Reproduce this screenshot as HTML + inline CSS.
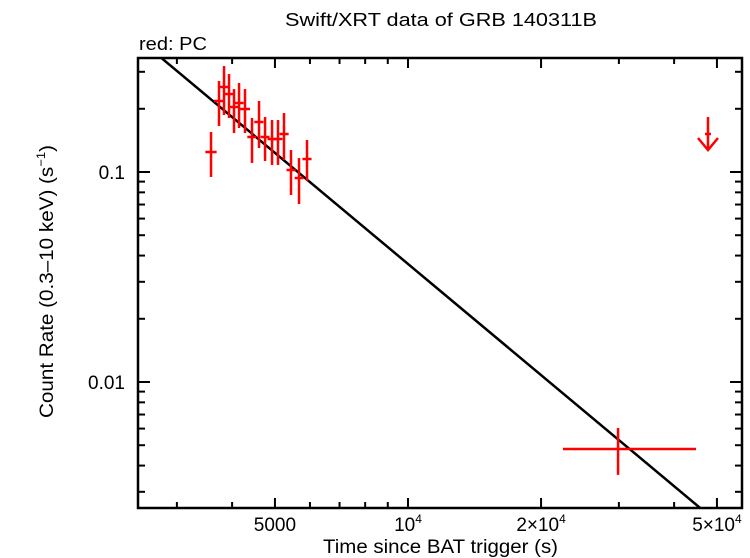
<!DOCTYPE html>
<html><head><meta charset="utf-8"><style>
body{margin:0;background:#fff;}
svg{display:block;font-family:"Liberation Sans",sans-serif;}
</style></head><body>
<svg id="chart" width="750" height="558" viewBox="0 0 750 558" xmlns="http://www.w3.org/2000/svg">
<text x="285" y="26" font-size="18" textLength="312" lengthAdjust="spacingAndGlyphs">Swift/XRT data of GRB 140311B</text>
<text x="139" y="50" font-size="18" textLength="68" lengthAdjust="spacingAndGlyphs">red: PC</text>
<text x="323" y="553" font-size="19" textLength="235" lengthAdjust="spacingAndGlyphs">Time since BAT trigger (s)</text>
<text transform="translate(53,418) rotate(-90)" font-size="19" textLength="273" lengthAdjust="spacingAndGlyphs">Count Rate (0.3–10 keV) (s<tspan font-size="12" dy="-8">−1</tspan><tspan dy="8">)</tspan></text>
<g id="ticks"></g><g id="marks"></g>
<rect x="138" y="58" width="604" height="450" fill="none" stroke="#000" stroke-width="2.5"/>
</svg>
<script>
const times=[3584,3736,3835,3936,4040,4147,4278,4437,4602,4749,4925,5080,5241,5436,5668,5909,29870];
const timeLo=[3480,3640,3740,3840,3940,4050,4170,4330,4490,4640,4810,4960,5120,5310,5540,5770,22420];
const timeHi=[3690,3840,3930,4040,4140,4250,4390,4540,4710,4860,5040,5200,5370,5570,5800,6050,44830];
const rates=[0.1245,0.2178,0.2540,0.2351,0.2039,0.2131,0.1995,0.1468,0.1730,0.1468,0.1436,0.1436,0.1517,0.1022,0.0936,0.1153,0.00480];
const rateLo=[0.0947,0.1656,0.1868,0.1808,0.1533,0.1620,0.1533,0.1104,0.1301,0.1128,0.1080,0.1080,0.1141,0.0777,0.0704,0.0906,0.00361];
const rateHi=[0.1550,0.2713,0.3198,0.2928,0.2484,0.2653,0.2484,0.1808,0.2178,0.1828,0.1769,0.1769,0.1910,0.1273,0.1166,0.1420,0.00604];
const ulTime=[47720];
const ulRate=[0.1517];
const modelNorm=[0.353];const modelT0=[2750];const modelIndex=[1.758];
const xTickValues=[5000,10000,20000,50000];
const xTickBase=["5000","10","2×10","5×10"];
const xTickSup=["","4","4","4"];
const yTickValues=[0.01,0.1];
const yTickLabels=["0.01","0.1"];
const X=t=>408+442*(Math.log10(t)-4);
const Y=r=>172-210*(Math.log10(r)+1);
const NS="http://www.w3.org/2000/svg";
function mk(tag,attrs,parent){const e=document.createElementNS(NS,tag);for(const k in attrs)e.setAttribute(k,attrs[k]);parent.appendChild(e);return e;}
const tg=document.getElementById('ticks'),mg=document.getElementById('marks');
for(let d=1000;d<=10000;d*=10)for(let m=1;m<10;m++){const t=d*m;const x=X(t);if(x<140||x>740)continue;
 const major=xTickValues.includes(t);const len=major?10:6;
 const l1=mk('line',{x1:x,x2:x,y1:508,y2:508-len,stroke:'#000','stroke-width':2},tg);
 
 const l2=mk('line',{x1:x,x2:x,y1:58,y2:58+len,stroke:'#000','stroke-width':2},tg);
 }
xTickValues.forEach((t,i)=>{const e=mk('text',{x:X(t),y:531,'font-size':19,'text-anchor':'middle'},tg);
 
 const a=mk('tspan',{},e);a.textContent=xTickBase[i];
 if(xTickSup[i]){const b=mk('tspan',{'font-size':12,dy:-8},e);b.textContent=xTickSup[i];}});
for(let d=0.001;d<=0.1001;d*=10)for(let m=1;m<10;m++){const r=d*m;const y=Y(r);if(y<60||y>506)continue;
 const major=(m===1);const len=major?12:7;
 const l1=mk('line',{x1:138,x2:138+len,y1:y,y2:y,stroke:'#000','stroke-width':2},tg);
 
 const l2=mk('line',{x1:742,x2:742-len,y1:y,y2:y,stroke:'#000','stroke-width':2},tg);
 }
yTickValues.forEach((r,i)=>{const e=mk('text',{x:125,y:Y(r)+7,'font-size':19,'text-anchor':'end'},tg);e.textContent=yTickLabels[i];
 });
const tA=2450,tB=57000;const mr=t=>modelNorm[0]*Math.pow(t/modelT0[0],-modelIndex[0]);
const cp=mk('clipPath',{id:'cp'},document.getElementById('chart'));
mk('rect',{x:138,y:58,width:604,height:450},cp);
mg.setAttribute('clip-path','url(#cp)');
const ml=mk('line',{x1:X(tA),y1:Y(mr(tA)),x2:X(tB),y2:Y(mr(tB)),stroke:'#000','stroke-width':2.5},mg);

times.forEach((t,i)=>{const g=mk('g',{stroke:'#f00','stroke-width':2.5},mg);
 
 mk('line',{x1:X(timeLo[i]),x2:X(timeHi[i]),y1:Y(rates[i]),y2:Y(rates[i])},g);
 mk('line',{x1:X(t),x2:X(t),y1:Y(rateLo[i]),y2:Y(rateHi[i])},g);});
ulTime.forEach((t,i)=>{const g=mk('g',{stroke:'#f00','stroke-width':2.5,fill:'none'},mg);
 
 const x=X(t),y=Y(ulRate[i]);
 mk('line',{x1:x,x2:x,y1:y-17,y2:y+16},g);
 mk('line',{x1:x-3,x2:x+3,y1:y,y2:y},g);
 mk('polyline',{points:`${x-10},${y+4} ${x},${y+16} ${x+10},${y+4}`},g);});
</script>
</body></html>
